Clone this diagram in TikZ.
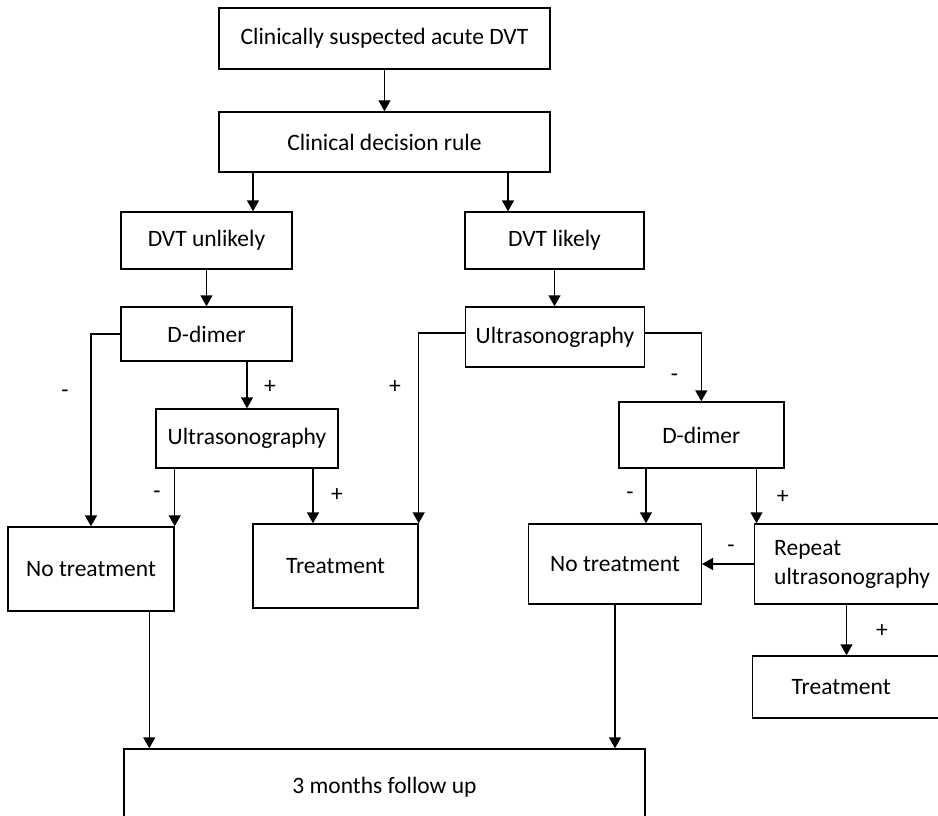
\documentclass[tikz,border=0pt]{standalone}
\usepackage{fontspec}
\setmainfont{Carlito}
\usetikzlibrary{arrows.meta}
\tikzset{
	box/.style={draw, line width=1.4pt, inner sep=0pt, font=\fontsize{23.5}{29}\selectfont},
	sign/.style={font=\fontsize{23.5}{29}\selectfont, inner sep=0pt},
	link/.style={->, line width=1.4pt}
}

\begin{document}
\begin{tikzpicture}[x=1pt, y=-1pt, >={Triangle[length=11pt,width=12pt]}]
		\useasboundingbox (0,0) rectangle (938,816);
		\clip (0,0) rectangle (938,816);

		% Top
		\node[box, minimum width=331pt, minimum height=61pt] (b1) at (384.5,38.5) {Clinically suspected acute DVT};
		\node[box, minimum width=331pt, minimum height=60pt] (b2) at (384.5,142) {Clinical decision rule};

		% Unlikely branch
		\node[box, minimum width=171pt, minimum height=57pt] (b3) at (206.5,240.5) {DVT unlikely};
		\node[box, minimum width=171pt, minimum height=54pt] (b5) at (206.5,334) {D-dimer};
		\node[box, minimum width=182pt, minimum height=59pt] (b7) at (247,438.5) {Ultrasonography};
		\node[box, minimum width=166pt, minimum height=84pt] (b8) at (91,569) {No treatment};
		\node[box, minimum width=165pt, minimum height=84pt] (b9) at (335.5,566) {Treatment};

		% Likely branch
		\node[box, minimum width=179pt, minimum height=57pt] (b4) at (554.5,240.5) {DVT likely};
		\node[box, minimum width=179pt, minimum height=60pt] (b6) at (555,337) {Ultrasonography};
		\node[box, minimum width=165pt, minimum height=66pt] (b10) at (701.3,435) {D-dimer};
		\node[box, minimum width=172.6pt, minimum height=80pt] (b11) at (615,564) {No treatment};
		\node[box, anchor=west, text width=200pt, align=left, inner xsep=20pt, minimum height=80pt] (b12) at (753.5,564) {Repeat\\ultrasonography};
		\node[box, anchor=west, text width=200pt, align=left, inner xsep=39pt, minimum height=62pt] (b13) at (752,687) {Treatment};

		% Bottom
		\node[box, minimum width=521pt, minimum height=76pt] (b14) at (384.5,787) {3 months follow up};

		% Arrows
		\draw[link] (b1) -- (b2);
		\draw[link] ([xshift=46.5pt]b3.north |- b2.south) -- ([xshift=46.5pt]b3.north);
		\draw[link] ([xshift=-46.5pt]b4.north |- b2.south) -- ([xshift=-46.5pt]b4.north);
		\draw[link] (b3) -- (b5);
		\draw[link] (b4.south) -- (b4.south |- b6.north);
		\draw[link] (b5.south -| b7.north) -- (b7.north);
		\draw[link] (b5.west) -| (b8.north);
		\draw[link] (b8.north east |- b7.south) -- (b8.north east);
		\draw[link] ([xshift=-22.5pt]b9.north |- b7.south) -- ([xshift=-22.5pt]b9.north);
		\draw[link] ([yshift=4pt]b6.west) -| (b9.north east);
		\draw[link] ([yshift=4pt]b6.east) -| (b10.north);
		\draw[link] ([xshift=31pt]b11.north |- b10.south) -- ([xshift=31pt]b11.north);
		\draw[link] ([xshift=3pt]b12.north west |- b10.south) -- ([xshift=3pt]b12.north west);
		\draw[link] (b12.west) -- (b11.east);
		\draw[link] ([xshift=93pt]b12.south west) -- ([xshift=93pt]b12.south west |- b13.north);
		\draw[link] ([xshift=26pt]b14.north west |- b8.south) -- ([xshift=26pt]b14.north west);
		\draw[link] (b11.south) -- (b11.south |- b14.north);

		% Signs
		\node[sign] (s1) at (65,394) {-};
		\node[sign] (s2) at (270,387) {+};
		\node[sign] (s3) at (157,495) {-};
		\node[sign] (s4) at (337,495) {+};
		\node[sign] (s5) at (395,387) {+};
		\node[sign] (s6) at (674.5,378) {-};
		\node[sign] (s7) at (630,496) {-};
		\node[sign] (s8) at (782.6,497) {+};
		\node[sign] (s9) at (731,549) {-};
		\node[sign] (s10) at (882,631) {+};
	\end{tikzpicture}
\end{document}
